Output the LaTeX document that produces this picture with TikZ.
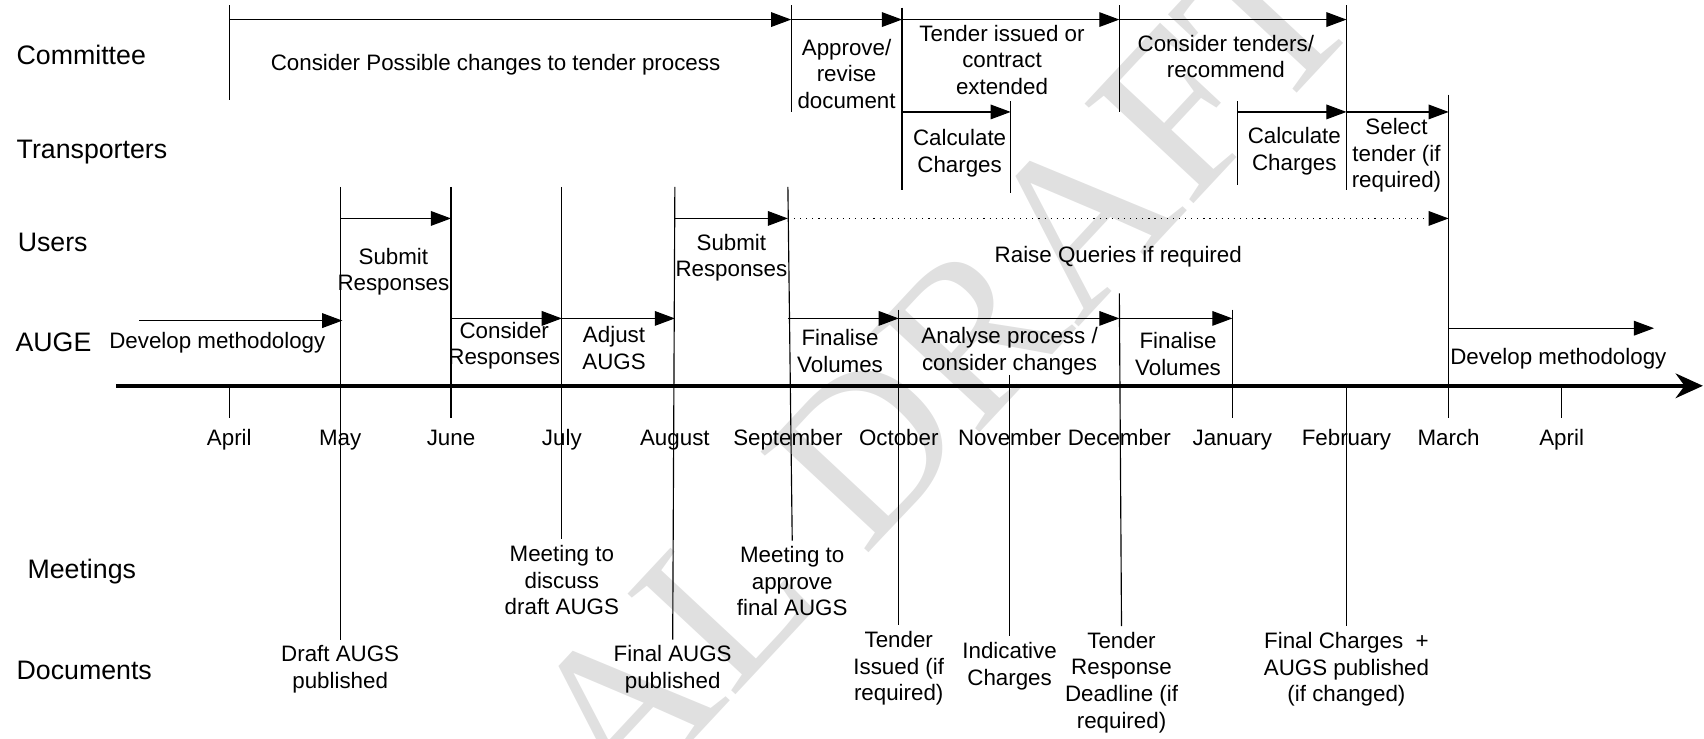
\documentclass[tikz,border=0pt]{standalone}
\usepackage{fontspec}
\setmainfont{Liberation Sans}
\newfontfamily\wmfont{Liberation Serif}
\usetikzlibrary{arrows.meta}

\begin{document}
\begin{tikzpicture}[x=0.02cm, y=-0.02cm,
    every node/.style={font=\fontsize{11.7}{13.9}\selectfont, align=center, inner sep=0pt},
    rowlabel/.style={font=\fontsize{14}{16}\selectfont, anchor=base west},
    monthlabel/.style={anchor=base},
    docnode/.style={inner ysep=3pt},
    bar/.style={line width=0.6pt},
    arrowstyle/.style={-{Triangle[length=0.37cm,width=0.27cm]}, line width=0.6pt},
    queryarrow/.style={arrowstyle, dash pattern=on 0.6pt off 2.6pt},
    axisstyle/.style={-{Stealth[length=0.5cm,width=0.45cm]}, line width=2.4pt},
    watermark/.style={font=\wmfont\fontsize{118}{118}\selectfont, text=black!12, rotate=47}
]
    \useasboundingbox (0,0) rectangle (1568,680);

    \node[watermark] (wm) at (865,338) {AL DRAFT};

    \node[rowlabel] (committee) at (15,59) {Committee};
    \node[rowlabel] (transporters) at (15,146) {Transporters};
    \node[rowlabel] (users) at (16,231) {Users};
    \node[rowlabel] (auge) at (14,323) {AUGE};
    \node[rowlabel] (meetings) at (25,532) {Meetings};
    \node[rowlabel] (documents) at (15,625) {Documents};

    \node[monthlabel] (apr) at (211,410) {April};
    \node[monthlabel] (may) at (313,410) {May};
    \node[monthlabel] (jun) at (415,410) {June};
    \node[monthlabel] (jul) at (517,410) {July};
    \node[monthlabel] (aug) at (621,410) {August};
    \node[monthlabel] (sep) at (725,410) {September};
    \node[monthlabel] (oct) at (827,410) {October};
    \node[monthlabel] (nov) at (929,410) {November};
    \node[monthlabel] (dec) at (1030,410) {December};
    \node[monthlabel] (jan) at (1134,410) {January};
    \node[monthlabel] (feb) at (1239,410) {February};
    \node[monthlabel] (mar) at (1333,410) {March};
    \node[monthlabel] (aprb) at (1437,410) {April};

    \coordinate (axstart) at (107,355);
    \coordinate (axend) at (1567,355);
    \coordinate (axis) at (0,355);
    \coordinate (tick) at (0,385);
    \draw[axisstyle] (axstart) -- (axend);

    \coordinate (crow) at (0,18);
    \coordinate (trow) at (0,103);
    \coordinate (urow) at (0,201);
    \coordinate (arow) at (0,293);

    \coordinate (c1top) at (211,5);   \coordinate (c1bot) at (211,92);
    \coordinate (c2top) at (728,5);   \coordinate (c2bot) at (728,103);
    \coordinate (c3top) at (830,7);   \coordinate (c3bot) at (830,175);
    \coordinate (c4top) at (1030,5);  \coordinate (c4bot) at (1030,103);
    \coordinate (c5top) at (1239,5);  \coordinate (c5bot) at (1239,175);
    \coordinate (t1top) at (930,93);  \coordinate (t1bot) at (930,178);
    \coordinate (t2top) at (1139,93); \coordinate (t2bot) at (1139,170);
    \coordinate (t3top) at (1333,87);
    \coordinate (utop) at (0,172);
    \coordinate (octtop) at (827,285);
    \coordinate (novtop) at (929,345);
    \coordinate (dectop) at (1030,270);
    \coordinate (jantop) at (1134,285);
    \coordinate (devstart) at (128,295);
    \coordinate (devend) at (315,295);
    \coordinate (dev2start) at (1333,302);
    \coordinate (dev2end) at (1522,302);

    \node (consider) at (456,60) {Consider Possible changes to tender process};
    \node (approve) at (779,68) {Approve/\\revise\\document};
    \node (tender) at (922,55) {Tender issued or\\contract\\extended};
    \node (tenders) at (1128,52) {Consider tenders/\\recommend};

    \node (calc1) at (883,141) {Calculate\\Charges};
    \node (calc2) at (1191,139) {Calculate\\Charges};
    \node (select) at (1285,143) {Select\\tender (if\\required)};

    \node (submit1) at (362,250) {Submit\\Responses};
    \node (submit2) at (673,237) {Submit\\Responses};
    \node (queries) at (1029,236) {Raise Queries if required};

    \node (dev1) at (200,315) {Develop methodology};
    \node (consresp) at (464,318) {Consider\\Responses};
    \node (adjust) at (565,320) {Adjust\\AUGS};
    \node (final1) at (773,323) {Finalise\\Volumes};
    \node (analyse) at (929,323) {Analyse process /\\consider changes};
    \node (final2) at (1084,326) {Finalise\\Volumes};
    \node (dev2) at (1434,330) {Develop methodology};

    \node[docnode] (meetdisc) at (517,534) {Meeting to\\discuss\\draft AUGS};
    \node[docnode] (meetappr) at (729,535) {Meeting to\\approve\\final AUGS};

    \node[docnode] (draftpub) at (313,616) {Draft AUGS\\published};
    \node[docnode] (finalpub) at (619,616) {Final AUGS\\published};
    \node[docnode] (tendiss) at (827,615) {Tender\\Issued (if\\required)};
    \node[docnode] (indic) at (929,613) {Indicative\\Charges};
    \node[docnode] (deadline) at (1032,628) {Tender\\Response\\Deadline (if\\required)};
    \node[docnode] (chargespub) at (1239,616) {Final Charges~~+\\AUGS published\\(if changed)};

    \draw[bar] (c1top) -- (c1bot);
    \draw[bar] (c2top) -- (c2bot);
    \draw[bar] (c3top) -- (c3bot);
    \draw[bar] (c4top) -- (c4bot);
    \draw[bar] (c5top) -- (c5bot);
    \draw[arrowstyle] (c1top |- crow) -- (c2top |- crow);
    \draw[arrowstyle] (c2top |- crow) -- (c3top |- crow);
    \draw[arrowstyle] (c3top |- crow) -- (c4top |- crow);
    \draw[arrowstyle] (c4top |- crow) -- (c5top |- crow);

    \draw[bar] (t1top) -- (t1bot);
    \draw[bar] (t2top) -- (t2bot);
    \draw[bar] (t3top) -- (t3top |- tick);
    \draw[arrowstyle] (c3top |- trow) -- (t1top |- trow);
    \draw[arrowstyle] (t2top |- trow) -- (c5top |- trow);
    \draw[arrowstyle] (c5top |- trow) -- (t3top |- trow);

    \draw[bar] (may |- utop) -- (draftpub.north);
    \draw[bar] (jun |- utop) -- (jun |- tick);
    \draw[bar] (jul |- utop) -- (meetdisc.north);
    \draw[bar] (aug |- utop) -- (finalpub.north);
    \draw[bar] (sep |- utop) -- (meetappr.north);
    \draw[arrowstyle] (may |- urow) -- (jun |- urow);
    \draw[arrowstyle] (aug |- urow) -- (sep |- urow);
    \draw[queryarrow] (sep |- urow) -- (mar |- urow);

    \draw[bar] (octtop) -- (tendiss.north);
    \draw[bar] (novtop) -- (indic.north);
    \draw[bar] (dectop) -- (deadline.north);
    \draw[bar] (jantop) -- (jan |- tick);
    \draw[bar] (feb |- axis) -- (chargespub.north);
    \draw[bar] (apr |- axis) -- (apr |- tick);
    \draw[bar] (aprb |- axis) -- (aprb |- tick);

    \draw[arrowstyle] (devstart) -- (devend);
    \draw[arrowstyle] (jun |- arow) -- (jul |- arow);
    \draw[arrowstyle] (jul |- arow) -- (aug |- arow);
    \draw[arrowstyle] (sep |- arow) -- (octtop |- arow);
    \draw[arrowstyle] (octtop |- arow) -- (dectop |- arow);
    \draw[arrowstyle] (dectop |- arow) -- (jantop |- arow);
    \draw[arrowstyle] (dev2start) -- (dev2end);
\end{tikzpicture}
\end{document}
